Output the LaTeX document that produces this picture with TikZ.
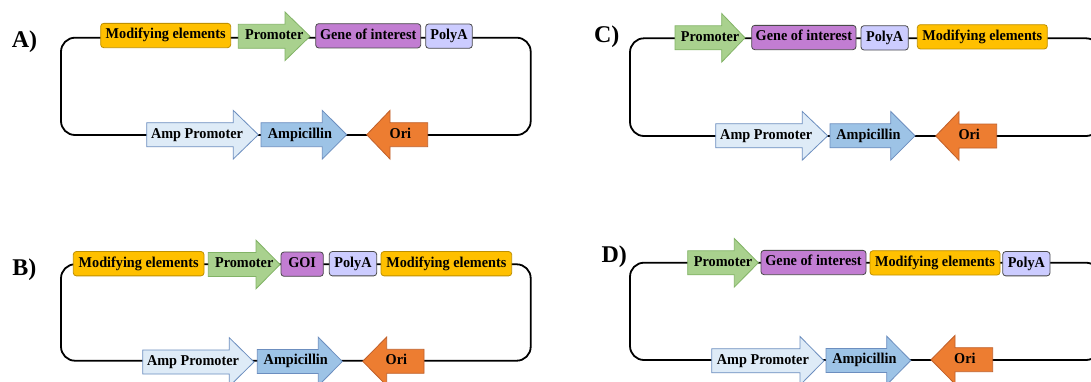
\documentclass[tikz,border=0pt]{standalone}
\usepackage{fontspec}
\setmainfont{Liberation Serif}
\newfontfamily\lblfont[FakeStretch=0.95]{Liberation Serif}
\definecolor{modfill}{HTML}{FFC000}
\definecolor{moddraw}{HTML}{BF9000}
\definecolor{promfill}{HTML}{A9D18E}
\definecolor{promdraw}{HTML}{82B366}
\definecolor{goifill}{HTML}{C27DD2}
\definecolor{polyfill}{HTML}{CCCCFF}
\definecolor{boxdraw}{HTML}{4A4A4A}
\definecolor{amppfill}{HTML}{DEEBF7}
\definecolor{ampfill}{HTML}{9DC3E6}
\definecolor{bluedraw}{HTML}{6C8EBF}
\definecolor{orifill}{HTML}{ED7D31}
\definecolor{oridraw}{HTML}{C0602A}
\tikzset{
  backbone/.style={draw=black, line width=1.8pt, rounded corners=14pt},
  lbl/.style={inner sep=0pt, font=\lblfont\fontsize{15}{17}\bfseries\selectfont, text height=0.66em, text depth=0pt},
  gbox/.style={lbl, rounded corners=3pt, line width=0.8pt, minimum height=24.3pt},
  modbox/.style={gbox, fill=modfill, draw=moddraw},
  goibox/.style={gbox, fill=goifill, draw=boxdraw},
  polybox/.style={gbox, fill=polyfill, draw=boxdraw},
  promarr/.style={fill=promfill, draw=promdraw, line width=0.8pt},
  ampparr/.style={fill=amppfill, draw=bluedraw, line width=0.8pt},
  amparr/.style={fill=ampfill, draw=bluedraw, line width=0.8pt},
  oriarr/.style={fill=orifill, draw=oridraw, line width=0.8pt},
  panel/.style={inner sep=0pt, font=\fontsize{24}{26}\bfseries\selectfont}
}
% right-pointing arrow: name, style, tail x, head x, tip x, centre y, text x, text
\newcommand\RArr[8]{%
  \draw[#2] (#3,#6-12) -- (#4,#6-12) -- (#4,#6-24.3) -- (#5,#6) -- (#4,#6+24.3) -- (#4,#6+12) -- (#3,#6+12) -- cycle;
  \node[lbl] (#1) at (#7,#6) {#8};}
% left-pointing arrow: name, style, tip x, head x, tail x, centre y, text x, text
\newcommand\LArr[8]{%
  \draw[#2] (#3,#6) -- (#4,#6-24.3) -- (#4,#6-12) -- (#5,#6-12) -- (#5,#6+12) -- (#4,#6+12) -- (#4,#6+24.3) -- cycle;
  \node[lbl] (#1) at (#7,#6) {#8};}
\begin{document}
\begin{tikzpicture}[x=1pt,y=-1pt]
\useasboundingbox (0,0) rectangle (1091,381);
\clip (0,0) rectangle (1091,381);
\fill[white] (0,0) rectangle (1091,381);

% ---------------- Panel A ----------------
\node[panel] (labA) at (24.5,42) {A)};
\coordinate (Atl) at (61,37.7);
\coordinate (Abr) at (530.7,135);
\draw[backbone] (Atl) rectangle (Abr);
\node[modbox, minimum width=130pt] (Amod) at (165.7,35.5) {Modifying elements};
\RArr{Aprom}{promarr}{238.3}{285}{310}{36.3}{274.2}{Promoter}
\node[goibox, minimum width=105pt] (Agoi) at (368.2,35.8) {Gene of interest};
\node[polybox, minimum width=46.6pt] (Apoly) at (449,36.1) {PolyA};
\RArr{Aampp}{ampparr}{146.7}{233.3}{258.3}{134.7}{197}{Amp Promoter}
\RArr{Aamp}{amparr}{261}{322.3}{346.7}{134.7}{300}{Ampicillin}
\LArr{Aori}{oriarr}{366.7}{390}{427.7}{134.7}{400.4}{Ori}

% ---------------- Panel B ----------------
\node[panel] (labB) at (24.3,269.7) {B)};
\coordinate (Btl) at (61,264.3);
\coordinate (Bbr) at (530.7,360.7);
\draw[backbone] (Btl) rectangle (Bbr);
\node[modbox, minimum width=130.7pt] (Bmod1) at (138.65,263.7) {Modifying elements};
\RArr{Bprom}{promarr}{208.3}{256}{280}{264.5}{244.2}{Promoter}
\node[goibox, minimum width=42.3pt] (Bgoi) at (302.15,264.15) {GOI};
\node[polybox, minimum width=47.4pt] (Bpoly) at (353,263.7) {PolyA};
\node[modbox, minimum width=130.7pt] (Bmod2) at (446.35,263.7) {Modifying elements};
\RArr{Bampp}{ampparr}{142.7}{229.3}{254}{362}{193}{Amp Promoter}
\RArr{Bamp}{amparr}{257.3}{318.3}{342.3}{361.5}{295.8}{Ampicillin}
\LArr{Bori}{oriarr}{362.7}{386.7}{424}{361.3}{396.4}{Ori}

% ---------------- Panel C ----------------
\node[panel] (labC) at (606.7,36.7) {C)};
\coordinate (Ctl) at (630,38.3);
\coordinate (Cbr) at (1100,136);
\draw[backbone] (Ctl) rectangle (Cbr);
\RArr{Cprom}{promarr}{675}{721.7}{745}{37.8}{710}{Promoter}
\node[goibox, minimum width=104.3pt] (Cgoi) at (803.85,37.5) {Gene of interest};
\node[polybox, minimum width=47.3pt] (Cpoly) at (884.65,37.85) {PolyA};
\node[modbox, minimum width=130pt] (Cmod) at (982.3,36.8) {Modifying elements};
\RArr{Campp}{ampparr}{715.7}{802.3}{827.7}{135.8}{766.2}{Amp Promoter}
\RArr{Camp}{amparr}{830}{890.7}{915}{135.8}{868.5}{Ampicillin}
\LArr{Cori}{oriarr}{935.7}{959}{996.7}{136}{969.2}{Ori}

% ---------------- Panel D ----------------
\node[panel] (labD) at (614.2,257) {D)};
\coordinate (Dtl) at (630,262.7);
\coordinate (Dbr) at (1100,360);
\draw[backbone] (Dtl) rectangle (Dbr);
\RArr{Dprom}{promarr}{687.7}{734.3}{758.3}{262.8}{723}{Promoter}
\node[goibox, minimum width=105pt] (Dgoi) at (813.5,262.5) {Gene of interest};
\node[modbox, minimum width=130pt] (Dmod) at (935,262.85) {Modifying elements};
\node[polybox, minimum width=47.3pt] (Dpoly) at (1026.35,263.7) {PolyA};
\RArr{Dampp}{ampparr}{711.7}{800}{824}{360.8}{762.9}{Amp Promoter}
\RArr{Damp}{amparr}{826}{886.7}{910.7}{360.5}{864.4}{Ampicillin}
\LArr{Dori}{oriarr}{931}{955}{992.7}{359.7}{964.9}{Ori}
\end{tikzpicture}
\end{document}
